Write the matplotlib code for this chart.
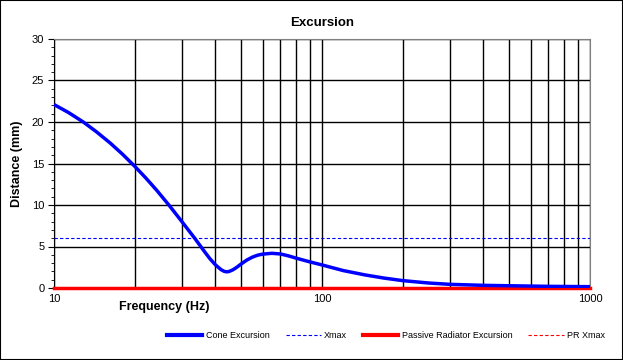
import matplotlib
matplotlib.use("Agg")
import matplotlib.pyplot as plt
from matplotlib.patches import Rectangle
from matplotlib.ticker import FixedLocator, NullFormatter, FixedFormatter
from matplotlib.lines import Line2D

plt.rcParams['font.family'] = ['Liberation Sans', 'DejaVu Sans']

freq = [10, 11.3, 12.86, 14.4, 16.2, 18, 20, 22, 24.2, 27, 30, 33.6, 35.1, 36.7, 38.2, 40,
        42, 43.2, 44.1, 45, 46.5, 48, 50, 52.5, 55, 57.5, 60, 65, 70, 75, 80, 90,
        100, 120, 145, 170, 200, 250, 300, 400, 500, 700, 1000]
cone = [22.1, 21.16, 20.0, 18.82, 17.47, 16.13, 14.67, 13.26, 11.75, 9.89, 8.0, 5.94, 5.1, 4.25, 3.52, 2.8,
        2.21, 2.0, 1.95, 1.99, 2.19, 2.48, 2.91, 3.38, 3.72, 3.95, 4.08, 4.18, 4.1, 3.87, 3.6, 3.15,
        2.78, 2.1, 1.57, 1.2, 0.89, 0.6, 0.44, 0.32, 0.27, 0.2, 0.16]
xmax = 6.0
pr_exc = 0.0
pr_xmax = 0.0

fig = plt.figure(figsize=(6.23, 3.6), dpi=100)
ax = fig.add_axes([54/623, 1-288/360, (590-54)/623, (288-39)/360])

ax.set_xscale('log')
ax.set_xlim(10, 1000)
ax.set_ylim(0, 30)

ax.xaxis.set_major_locator(FixedLocator([10, 100, 1000]))
ax.xaxis.set_major_formatter(FixedFormatter(['10', '100', '1000']))
minor = [m * d for d in (10, 100) for m in range(2, 10)]
ax.xaxis.set_minor_locator(FixedLocator(minor))
ax.xaxis.set_minor_formatter(NullFormatter())
ax.set_yticks(range(0, 31, 5))
ax.set_yticks(range(0, 31, 1), minor=True)

ax.grid(True, which='both', axis='x', color='black', linewidth=1.0)
ax.grid(True, which='major', axis='y', color='black', linewidth=1.0)
ax.set_axisbelow(True)

ax.tick_params(axis='x', which='both', length=0, labelsize=8, pad=4)
ax.tick_params(axis='y', which='major', length=4, labelsize=8, direction='out', color='black', pad=3)
ax.tick_params(axis='y', which='minor', length=2, direction='out', color='black')

for s in ('top', 'right'):
    ax.spines[s].set_color('#808080')
    ax.spines[s].set_linewidth(0.8)
ax.spines['left'].set_color('black')
ax.spines['bottom'].set_color('black')

ax.axhline(pr_xmax, color='red', linestyle=(0, (3, 2)), linewidth=0.8, zorder=3)
ax.axhline(xmax, color='blue', linestyle=(0, (3, 2)), linewidth=0.8, zorder=3)
ax.plot([10, 1000], [pr_exc, pr_exc], color='red', linewidth=2.5, zorder=4, clip_on=False)
ax.plot(freq, cone, color='blue', linewidth=2.5, zorder=5, solid_capstyle='butt',
        solid_joinstyle='round')

ax.set_title('Excursion', fontsize=9.5, fontweight='bold', pad=9)
ax.set_ylabel('Distance (mm)', fontsize=9, fontweight='bold')
ax.yaxis.set_label_coords((23-54)/536, 0.5)
fig.text(164/623, 1-307/360, 'Frequency (Hz)', fontsize=9, fontweight='bold', ha='center', va='center')

handles = [
    Line2D([], [], color='blue', linewidth=3),
    Line2D([], [], color='blue', linewidth=0.8, linestyle=(0, (3, 2))),
    Line2D([], [], color='red', linewidth=3),
    Line2D([], [], color='red', linewidth=0.8, linestyle=(0, (3, 2))),
]
labels = ['Cone Excursion', 'Xmax', 'Passive Radiator Excursion', 'PR Xmax']
fig.legend(handles, labels, loc='center', bbox_to_anchor=(386/623, 1-336/360), ncol=4,
           frameon=False, fontsize=6.5, handlelength=3.9, handletextpad=0.35, columnspacing=1.8)

fig.patches.append(Rectangle((0, 0), 1, 1, transform=fig.transFigure, fill=False,
                             edgecolor='black', linewidth=1.5))

fig.savefig('out.png', dpi=100)
